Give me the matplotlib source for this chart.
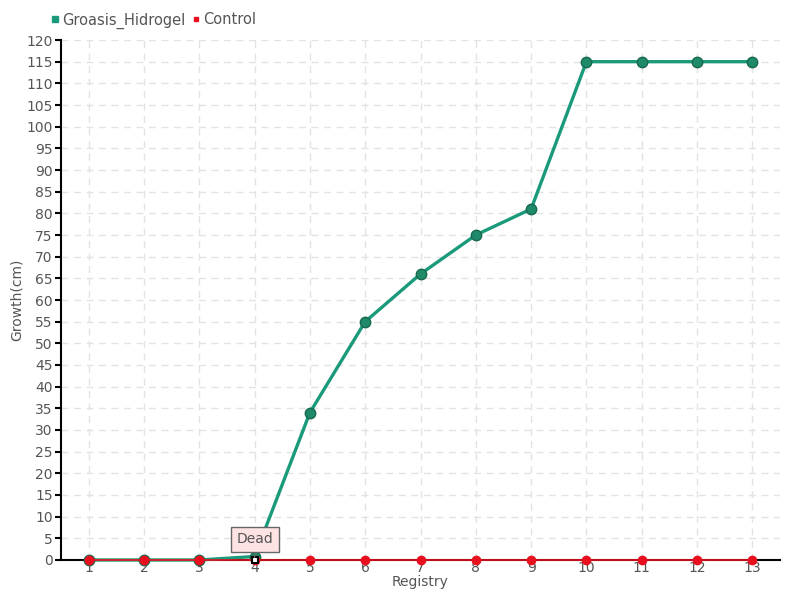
import matplotlib
matplotlib.use("Agg")
import matplotlib.pyplot as plt
import numpy as np

registry = list(range(1, 14))
groasis_hidrogel = [0, 0, 0, 0.8, 34, 55, 66, 75, 81, 115, 115, 115, 115]
control = [0] * 13

green = "#1a9a7a"
red = "#e8101e"
text_col = "#555555"

plt.rcParams['font.family'] = ['DejaVu Sans Condensed', 'DejaVu Sans']

fig = plt.figure(figsize=(8, 6), dpi=100)
ax = fig.add_axes([0.07625, 0.0667, 0.89875, 0.8666])

ax.plot(registry, groasis_hidrogel, color=green, linewidth=2.4, marker='o',
        markersize=7.5, markerfacecolor="#1f8a6a", markeredgecolor="#17694f",
        zorder=4, clip_on=False, label="Groasis_Hidrogel")
ax.plot(registry, control, color=red, linewidth=1.2, marker='o',
        markersize=6, markerfacecolor=red, markeredgecolor=red,
        zorder=5, clip_on=False, label="Control")
ax.plot([4], [0], marker='s', markersize=5, markerfacecolor="white",
        markeredgecolor="black", markeredgewidth=1.5, zorder=6, clip_on=False)

ax.annotate("Dead", xy=(4, 0), xytext=(4, 4.8), ha='center', va='center',
            fontsize=10, color=text_col,
            bbox=dict(boxstyle="square,pad=0.4", fc="#fde3e3", ec="#666666", lw=1),
            arrowprops=dict(arrowstyle="-", color="#666666"), zorder=7)

ax.set_xlim(0.5, 13.5)
ax.set_ylim(0, 120)
ax.set_xticks(registry)
ax.set_yticks(np.arange(0, 121, 5))
ax.grid(True, linestyle=(0, (5, 4)), color="#e3e3e3", linewidth=1)
ax.set_axisbelow(True)
for s in ['top', 'right']:
    ax.spines[s].set_visible(False)
ax.spines['left'].set_linewidth(1.5)
ax.spines['bottom'].set_linewidth(1.5)
ax.tick_params(axis='both', colors=text_col, labelsize=10, length=4, width=1.5)
ax.tick_params(axis='x', length=0, pad=1)
ax.tick_params(axis='y', color='black', pad=2)
ax.set_xlabel("Registry", color=text_col, fontsize=10, labelpad=0)
ax.set_ylabel("Growth(cm)", color=text_col, fontsize=10, labelpad=2)

ax.legend(loc='lower left', bbox_to_anchor=(-0.025, 1.005), ncol=2, frameon=False,
          handlelength=0.5, handletextpad=0.2, columnspacing=0.5, fontsize=10.5,
          labelcolor=text_col, markerscale=0.6, borderaxespad=0.2)
leg = ax.get_legend()
for h, c in zip(leg.legend_handles, [green, red]):
    h.set_marker('s')
    h.set_linestyle('')
    h.set_markerfacecolor(c)
    h.set_markeredgecolor(c)

fig.savefig("out.png")
